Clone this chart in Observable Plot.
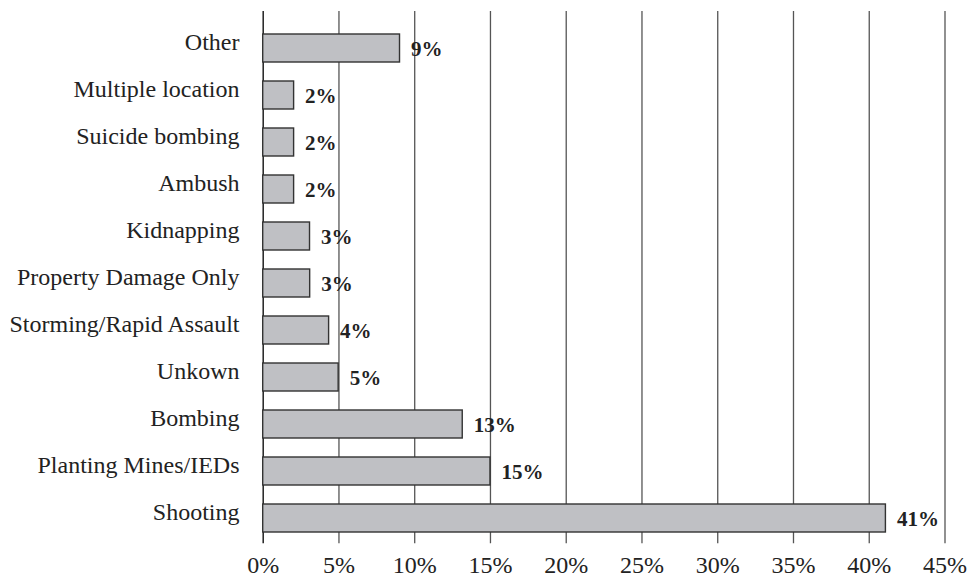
<!DOCTYPE html>
<html>
<head>
<meta charset="utf-8">
<script src="https://cdn.jsdelivr.net/npm/d3@7"></script>
<script src="https://cdn.jsdelivr.net/npm/@observablehq/plot@0.6"></script>
<style>
  html, body { margin: 0; padding: 0; background: #fff; }
  #chart svg { display: block; }
</style>
</head>
<body>
<div id="chart"></div>
<script>
const categories = [
  "Other", "Multiple location", "Suicide bombing", "Ambush", "Kidnapping",
  "Property Damage Only", "Storming/Rapid Assault", "Unkown", "Bombing",
  "Planting Mines/IEDs", "Shooting"
];
const values = [9.03, 2.04, 2.04, 2.04, 3.09, 3.1, 4.35, 4.98, 13.17, 15.0, 41.1];
const labels = ["9%", "2%", "2%", "2%", "3%", "3%", "4%", "5%", "13%", "15%", "41%"];
const xTicks = [0, 5, 10, 15, 20, 25, 30, 35, 40, 45];

const data = categories.map((c, i) => ({category: c, value: values[i], label: labels[i]}));

const chart = Plot.plot({
  width: 967,
  height: 578,
  marginLeft: 262.7,
  marginRight: 22.5,
  marginTop: 11,
  marginBottom: 34.7,
  style: {fontFamily: "'Liberation Serif', 'Times New Roman', serif", color: "#222", background: "#fff"},
  x: {domain: [0, 45], ticks: xTicks, label: null},
  y: {domain: categories, paddingInner: 0.4, paddingOuter: 0.3, align: 0.667, label: null},
  marks: [
    Plot.ruleX(xTicks.filter(d => d > 0), {stroke: "#555", strokeWidth: 1.3}),
    Plot.ruleX([0], {stroke: "#222", strokeWidth: 1.5}),
    Plot.barX(data, {x: "value", y: "category", fill: "#bfc0c4", stroke: "#333", strokeWidth: 1.4}),
    Plot.text(data, {x: "value", y: "category", text: "label", dx: 11, dy: 1, textAnchor: "start",
      fontWeight: "bold", fontSize: 21, fill: "#222"}),
    Plot.axisX({ticks: xTicks, tickSize: 0, tickPadding: 12, tickFormat: d => d + "%", fontSize: 24, fill: "#222", label: null}),
    Plot.axisY({tickSize: 0, tickPadding: 23.7, dy: -6, fontSize: 24, fill: "#222", label: null})
  ]
});
document.getElementById("chart").append(chart);
</script>
</body>
</html>
